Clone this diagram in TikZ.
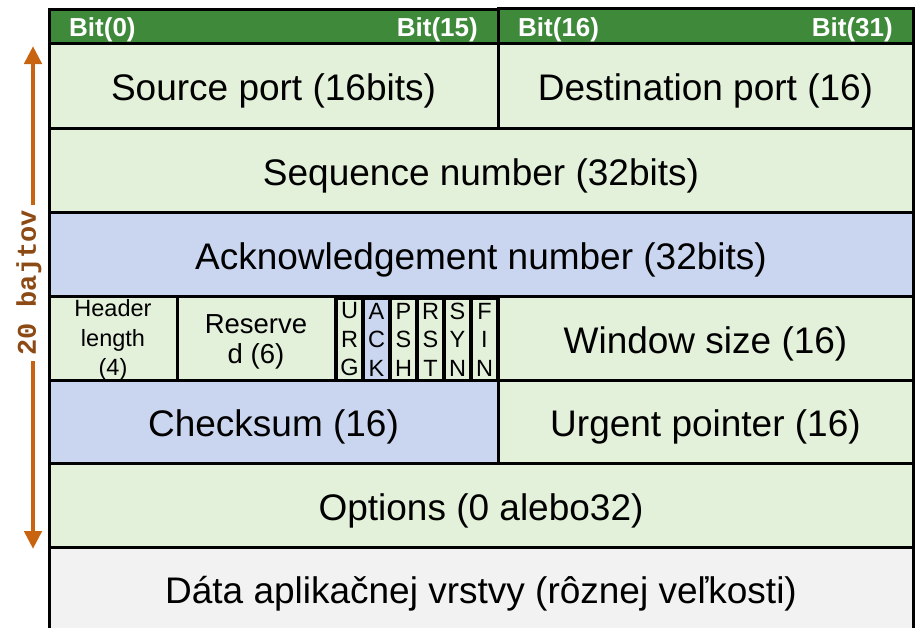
\documentclass[tikz,border=0pt]{standalone}
\usepackage{fontspec}
\setmainfont{Liberation Sans}
\newfontfamily\labelmono{Liberation Mono}
\usetikzlibrary{arrows.meta}

\definecolor{hdrgreen}{RGB}{62,137,58}
\definecolor{fieldgreen}{RGB}{227,240,218}
\definecolor{fieldblue}{RGB}{202,214,240}
\definecolor{fieldgray}{RGB}{242,242,242}
\definecolor{sizeorange}{RGB}{200,100,16}
\definecolor{sizebrown}{RGB}{140,74,20}

\newcommand\rowfont{\fontsize{37}{44}\selectfont}
\newcommand\bitfont{\bfseries\fontsize{26}{30}\selectfont}
\newcommand\hlenfont{\fontsize{23.5}{29.5}\selectfont}
\newcommand\rsvfont{\fontsize{27.5}{30}\selectfont}
\newcommand\flagfont{\fontsize{23.5}{28.5}\selectfont}

\begin{document}
\begin{tikzpicture}[x=1pt,y=-1pt,
  field/.style={draw=black, line width=3pt, inner sep=0pt, outer sep=0pt,
                anchor=north west, font=\rowfont, text=black, fill=fieldgreen,
                text height=30pt, text depth=0pt},
  hdr/.style={field, fill=hdrgreen},
  bitlabel/.style={inner sep=0pt, text=white, font=\bitfont},
  celltext/.style={inner sep=0pt, align=center, text=black},
  flagbox/.style={draw=black, line width=2.2pt, inner sep=0pt, outer sep=0pt,
                  fill=fieldgreen, minimum width=25pt, minimum height=82pt,
                  align=center, font=\flagfont},
  sizearrow/.style={draw=sizeorange, line width=4.5pt,
                    -{Triangle[length=18pt,width=17pt]}}]

\useasboundingbox (0,0) rectangle (920,627);
\clip (0,0) rectangle (920,627);

% bit header
\node[hdr, minimum width=449pt, minimum height=34pt] (hdrL) at (49,9) {};
\node[hdr, minimum width=415pt, minimum height=35pt] (hdrR) at (498,8) {};
\node[bitlabel, anchor=west, xshift=20pt, yshift=-4pt] (b0) at (hdrL.west) {Bit(0)};
\node[bitlabel, anchor=east, xshift=-20pt, yshift=-4pt] (b15) at (hdrL.east) {Bit(15)};
\node[bitlabel, anchor=west, xshift=20pt, yshift=-4pt] (b16) at (hdrR.west) {Bit(16)};
\node[bitlabel, anchor=east, xshift=-20pt, yshift=-4pt] (b31) at (hdrR.east) {Bit(31)};

% header fields
\node[field, minimum width=449pt, minimum height=85pt] (src) at (49,43) {Source port (16bits)};
\node[field, minimum width=415pt, minimum height=85pt] (dst) at (498,43) {Destination port (16)};
\node[field, minimum width=864pt, minimum height=84pt] (seq) at (49,128) {Sequence number (32bits)};
\node[field, fill=fieldblue, minimum width=864pt, minimum height=84pt] (ack) at (49,212) {Acknowledgement number (32bits)};

% data offset, reserved, flags, window
\node[field, minimum width=128pt, minimum height=84pt] (hlen) at (49,296) {};
\node[celltext, font=\hlenfont, yshift=-2pt] (hlentxt) at (hlen.center) {Header\\length\\(4)};
\node[field, minimum width=158pt, minimum height=84pt] (rsv) at (177,296) {};
\node[celltext, font=\rsvfont, yshift=-4pt] (rsvtxt) at (rsv.center) {Reserve\\d (6)};
\node[field, minimum width=163pt, minimum height=84pt] (flags) at (335,296) {};
\node[flagbox] (fURG) at (349.5,339.5) {U\\R\\G};
\node[flagbox, fill=fieldblue] (fACK) at (376.5,339.5) {A\\C\\K};
\node[flagbox] (fPSH) at (403.5,339.5) {P\\S\\H};
\node[flagbox] (fRST) at (430.5,339.5) {R\\S\\T};
\node[flagbox] (fSYN) at (457.5,339.5) {S\\Y\\N};
\node[flagbox] (fFIN) at (484.5,339.5) {F\\I\\N};
\node[field, minimum width=415pt, minimum height=84pt] (win) at (498,296) {Window size (16)};

% checksum, urgent pointer, options, payload (payload runs past the lower edge)
\node[field, fill=fieldblue, minimum width=449pt, minimum height=83pt] (chk) at (49,380) {Checksum (16)};
\node[field, minimum width=415pt, minimum height=83pt] (urg) at (498,380) {Urgent pointer (16)};
\node[field, minimum width=864pt, minimum height=84pt] (opt) at (49,463) {Options (0 alebo32)};
\node[field, fill=fieldgray, minimum width=864pt, minimum height=90pt, text height=22pt] (data) at (49,547) {Dáta aplikačnej vrstvy (rôznej veľkosti)};

% header size marker
\coordinate (atop) at (33,46);
\coordinate (abot) at (33,549);
\node[rotate=90, inner sep=5pt, text=sizebrown,
      font=\labelmono\bfseries\fontsize{27}{30}\selectfont] (lbl) at (29,283) {20 bajtov};
\draw[sizearrow] (lbl.east -| atop) -- (atop);
\draw[sizearrow] (lbl.west -| abot) -- (abot);

\end{tikzpicture}
\end{document}
